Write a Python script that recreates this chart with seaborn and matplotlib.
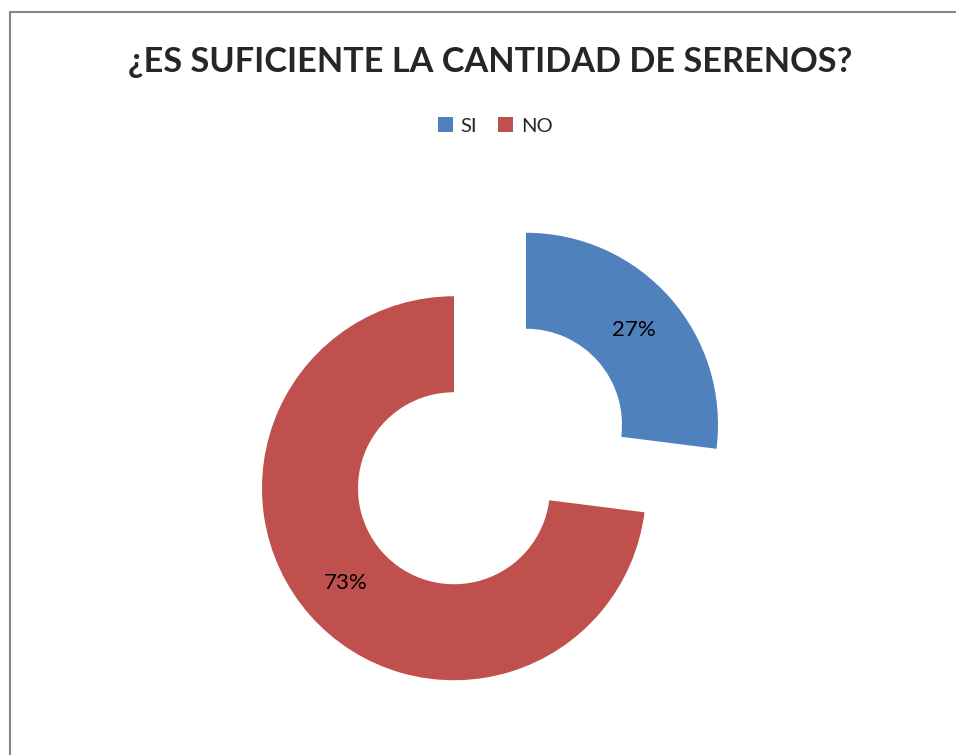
import numpy as np
import pandas as pd
import seaborn as sns
import matplotlib.pyplot as plt
from matplotlib.patches import Patch
from matplotlib.lines import Line2D

sns.set_theme(style="white")
plt.rcParams['font.family'] = ['Lato', 'DejaVu Sans']

# data
categories = ['SI', 'NO']
shares = [27, 73]
colors = sns.color_palette(['#4F81BD', '#C0504D'])

fig = plt.figure(figsize=(9.56, 7.55), dpi=100)
ax = fig.add_axes([0, 0, 1, 1])

wedges, texts, autotexts = ax.pie(
    shares,
    colors=colors,
    startangle=90,
    counterclock=False,
    explode=[0.25, 0.25],
    autopct='%1.0f%%',
    pctdistance=0.75,
    wedgeprops=dict(width=0.5, edgecolor='none'),
    textprops=dict(fontsize=16, color='black'),
)

# place the unexploded pie centre where the reference has it
ax.set_xlim(-490 / 192, (956 - 490) / 192)
ax.set_ylim(-(755 - 456.5) / 192, 456.5 / 192)
ax.set_aspect('equal', adjustable='box')
ax.axis('off')

fig.text(490 / 956, 1 - 62 / 755, '¿ES SUFICIENTE LA CANTIDAD DE SERENOS?',
         ha='center', va='center', fontsize=24.7, fontweight='bold')

handles = [Patch(facecolor=c, edgecolor='none') for c in colors]
fig.legend(handles, categories, loc='center', bbox_to_anchor=(495 / 956, 1 - 126 / 755),
           ncol=2, frameon=False, fontsize=14.5, handlelength=0.75, handleheight=0.75,
           handletextpad=0.4, columnspacing=1.0)

# outer chart border (top and left visible)
x0, y0 = 9.5 / 956, 1 - 11.5 / 755
fig.add_artist(Line2D([x0, 1], [y0, y0], color='#878787', lw=1.5, transform=fig.transFigure))
fig.add_artist(Line2D([x0, x0], [0, y0], color='#878787', lw=1.5, transform=fig.transFigure))

fig.savefig('out.png', dpi=100)
